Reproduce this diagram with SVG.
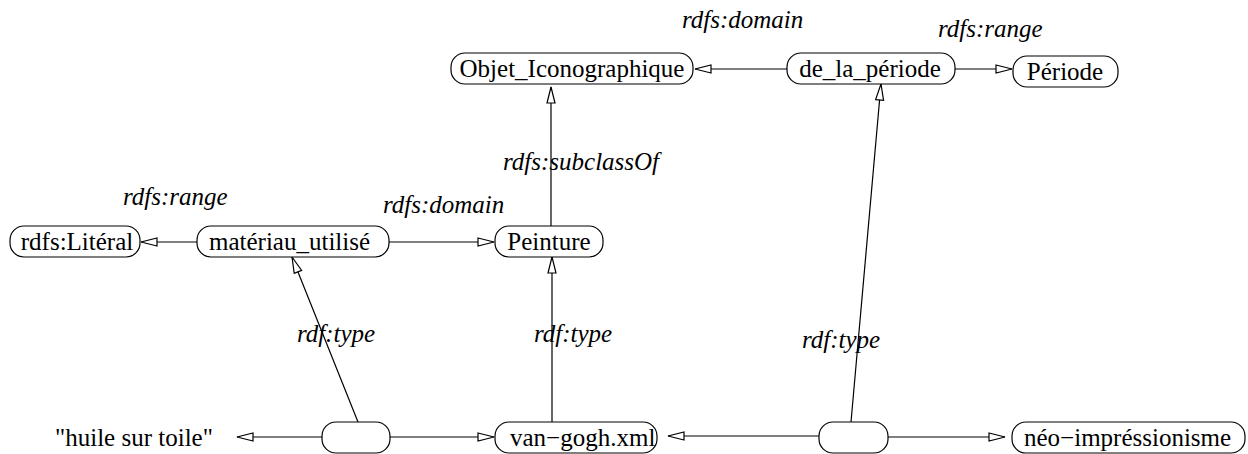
<svg xmlns="http://www.w3.org/2000/svg" width="1248" height="454" viewBox="0 0 1248 454">
<style>
.box{fill:#fff;stroke:#000;stroke-width:1.2}
.t{font-family:"Liberation Serif","Times New Roman",serif;font-size:25px;fill:#000}
.l{font-family:"Liberation Serif","Times New Roman",serif;font-size:25px;font-style:italic;fill:#000}
.e{stroke:#000;stroke-width:1.2;fill:none;marker-end:url(#arr)}
</style>
<defs>
<marker id="arr" viewBox="-1 -1 18 10" refX="16" refY="4" markerWidth="18" markerHeight="10" markerUnits="userSpaceOnUse" orient="auto">
<path d="M0,0 L16,4 L0,8 Z" fill="#fff" stroke="#000" stroke-width="1.2"/>
</marker>
</defs>
<rect width="1248" height="454" fill="#fff"/>
<g id="connectors">
<line class="e" x1="787" y1="69" x2="695" y2="69"/>
<line class="e" x1="955" y1="69" x2="1012" y2="69"/>
<line class="e" x1="551" y1="226" x2="551" y2="87"/>
<line class="e" x1="197" y1="242" x2="141" y2="242"/>
<line class="e" x1="389" y1="242" x2="494" y2="242"/>
<line class="e" x1="358" y1="422" x2="292" y2="257"/>
<line class="e" x1="322" y1="437" x2="237" y2="437"/>
<line class="e" x1="390" y1="437" x2="494" y2="437"/>
<line class="e" x1="552" y1="422" x2="552" y2="257"/>
<line class="e" x1="819" y1="436" x2="668" y2="436"/>
<line class="e" x1="851" y1="422" x2="881" y2="84"/>
<line class="e" x1="888" y1="437" x2="1005" y2="437"/>
<text class="l" x="682" y="28">rdfs:domain</text>
<text class="l" x="938" y="37">rdfs:range</text>
<text class="l" x="503" y="170">rdfs:subclassOf</text>
<text class="l" x="123" y="205">rdfs:range</text>
<text class="l" x="383" y="213">rdfs:domain</text>
<text class="l" x="297" y="342">rdf:type</text>
<text class="l" x="534" y="342">rdf:type</text>
<text class="l" x="802" y="348">rdf:type</text>
</g>
<g id="objet">
<rect class="box" x="451" y="53" width="242" height="31" rx="14"/>
<text class="t" x="572" y="77" text-anchor="middle">Objet_Iconographique</text>
</g>
<g id="de_la_periode">
<rect class="box" x="787" y="53" width="168" height="31" rx="14"/>
<text class="t" x="870" y="77" text-anchor="middle">de_la_période</text>
</g>
<g id="periode">
<rect class="box" x="1013" y="56" width="105" height="31" rx="14"/>
<text class="t" x="1065" y="80" text-anchor="middle">Période</text>
</g>
<g id="literal">
<rect class="box" x="10" y="226" width="130" height="31" rx="14"/>
<text class="t" x="77" y="250" text-anchor="middle">rdfs:Litéral</text>
</g>
<g id="materiau">
<rect class="box" x="197" y="226" width="192" height="31" rx="14"/>
<text class="t" x="209" y="250">matériau_utilisé</text>
</g>
<g id="peinture">
<rect class="box" x="495" y="226" width="108" height="31" rx="14"/>
<text class="t" x="549" y="250" text-anchor="middle">Peinture</text>
</g>
<g id="blank1">
<rect class="box" x="322" y="422" width="68" height="31" rx="14"/>
</g>
<g id="huile">
<text class="t" x="55" y="446">"huile sur toile"</text>
</g>
<g id="vangogh">
<rect class="box" x="495" y="422" width="162" height="31" rx="14"/>
<text class="t" x="510" y="446">van−gogh.xml</text>
</g>
<g id="blank2">
<rect class="box" x="819" y="422" width="69" height="31" rx="14"/>
</g>
<g id="neo">
<rect class="box" x="1012" y="422" width="233" height="31" rx="14"/>
<text class="t" x="1024" y="446">néo−impréssionisme</text>
</g>
</svg>
